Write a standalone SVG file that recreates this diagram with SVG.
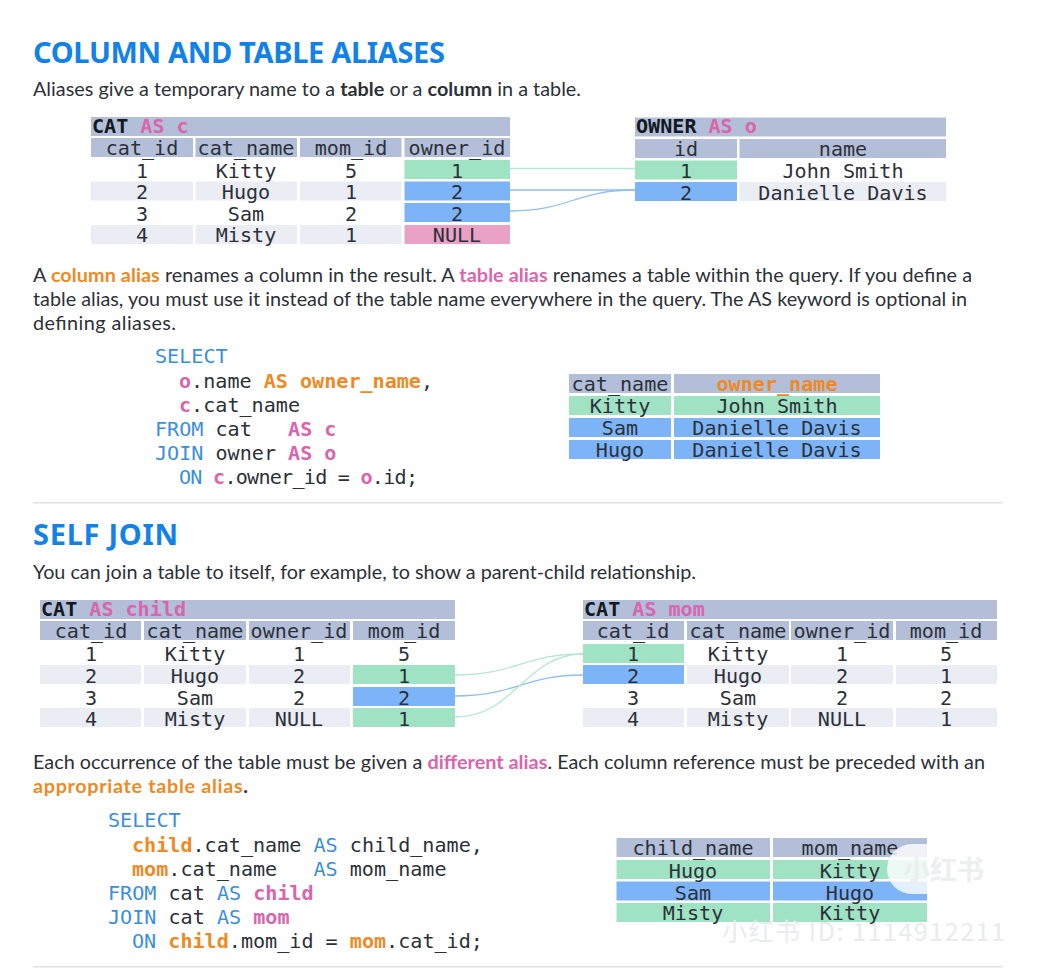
<svg xmlns="http://www.w3.org/2000/svg" width="1049" height="978" viewBox="0 0 1049 978">
<style>
text{font-family:"Lato","Noto Sans",sans-serif;fill:#2c3138}
.h{font-size:29px;font-weight:700;fill:#1282e8;font-family:"Noto Sans",sans-serif}
.p{font-size:19.8px}
.b{font-weight:700}
.o{fill:#ee8a25;font-weight:700}
.k{fill:#d965ad;font-weight:700}
.m text{font-family:"DejaVu Sans Mono",monospace;font-size:20.1px;white-space:pre}
.c{text-anchor:middle}
.t{font-weight:700;fill:#14181f}
.q{fill:#3a8fdc}
.hd{fill:#b3bfd9}.lt{fill:#ebedf5}.gr{fill:#a0e3c4}.bl{fill:#7db4f8}.pk{fill:#e9a2c6}
.cn path{fill:none;stroke-width:1.3}
.g{stroke:#b4e8d2}.u{stroke:#8fbef2}
.w{fill:#fff;font-family:"Noto Sans CJK SC","Noto Sans",sans-serif}
</style>
<rect width="1049" height="978" fill="#fff"/>
<text class="h" x="33" y="63" textLength="412">COLUMN AND TABLE ALIASES</text>
<text class="p" x="33" y="96" textLength="548">Aliases give a temporary name to a <tspan class="b">table</tspan> or a <tspan class="b">column</tspan> in a table.</text>
<g id="cat-table" class="m">
<rect class="hd" x="91" y="117" width="419" height="19"/>
<text x="92" y="133"><tspan class="t">CAT</tspan><tspan class="k" dx="12">AS</tspan><tspan class="k" dx="12">c</tspan></text>
<rect class="hd" x="91" y="138" width="102" height="19"/><rect class="hd" x="195.500" y="138" width="101.500" height="19"/><rect class="hd" x="300" y="138" width="101.500" height="19"/><rect class="hd" x="404.500" y="138" width="105.500" height="19"/>
<text class="c" x="142" y="155">cat_id</text><text class="c" x="246" y="155">cat_name</text><text class="c" x="351" y="155">mom_id</text><text class="c" x="457" y="155">owner_id</text>
<rect class="gr" x="404.500" y="160" width="105.500" height="19"/>
<rect class="lt" x="91" y="181.500" width="102" height="19"/><rect class="lt" x="195.500" y="181.500" width="101.500" height="19"/><rect class="lt" x="300" y="181.500" width="101.500" height="19"/><rect class="bl" x="404.500" y="181.500" width="105.500" height="19"/>
<rect class="bl" x="404.500" y="203" width="105.500" height="19"/>
<rect class="lt" x="91" y="225" width="102" height="19"/><rect class="lt" x="195.500" y="225" width="101.500" height="19"/><rect class="lt" x="300" y="225" width="101.500" height="19"/><rect class="pk" x="404.500" y="225" width="105.500" height="19"/>
<text class="c" x="142" y="178">1</text><text class="c" x="246" y="178">Kitty</text><text class="c" x="351" y="178">5</text><text class="c" x="457" y="178">1</text>
<text class="c" x="142" y="199">2</text><text class="c" x="246" y="199">Hugo</text><text class="c" x="351" y="199">1</text><text class="c" x="457" y="199">2</text>
<text class="c" x="142" y="221">3</text><text class="c" x="246" y="221">Sam</text><text class="c" x="351" y="221">2</text><text class="c" x="457" y="221">2</text>
<text class="c" x="142" y="242">4</text><text class="c" x="246" y="242">Misty</text><text class="c" x="351" y="242">1</text><text class="c" x="457" y="242">NULL</text>
</g>
<g id="owner-table" class="m">
<rect class="hd" x="635" y="117.500" width="311" height="19"/>
<text x="636" y="133"><tspan class="t">OWNER</tspan><tspan class="k" dx="12">AS</tspan><tspan class="k" dx="12">o</tspan></text>
<rect class="hd" x="635" y="139" width="102" height="19"/><rect class="hd" x="739.500" y="139" width="206.500" height="19"/>
<text class="c" x="686" y="156">id</text><text class="c" x="843" y="156">name</text>
<rect class="gr" x="635" y="160.500" width="102" height="19"/>
<rect class="bl" x="635" y="182" width="102" height="19"/><rect class="lt" x="739.500" y="182" width="206.500" height="19"/>
<text class="c" x="686" y="178">1</text><text class="c" x="843" y="178">John Smith</text>
<text class="c" x="686" y="200">2</text><text class="c" x="843" y="200">Danielle Davis</text>
</g>
<g id="connectors" class="cn">
<path class="g" d="M510 168.500H635"/>
<path class="u" d="M510 190H635"/>
<path class="u" d="M510 211C570 211 575 190 635 190"/>
<path class="g" d="M455 675C515 675 525 654 583 654"/>
<path class="u" d="M455 696C515 696 525 675 583 675"/>
<path class="g" d="M455 717C515 717 525 654 583 654"/>
</g>
<text class="p" x="33" y="282" textLength="939">A <tspan class="o">column alias</tspan> renames a column in the result. A <tspan class="k">table alias</tspan> renames a table within the query. If you define a</text>
<text class="p" x="33" y="306" textLength="934">table alias, you must use it instead of the table name everywhere in the query. The AS keyword is optional in</text>
<text class="p" x="33" y="330" textLength="143">defining aliases.</text>
<g id="query-1" class="m">
<text x="155" y="363" class="q">SELECT</text>
<text x="179" y="388"><tspan class="k">o</tspan>.name <tspan class="o">AS owner_name</tspan>,</text>
<text x="179" y="412"><tspan class="k">c</tspan>.cat_name</text>
<text x="155" y="436"><tspan class="q">FROM</tspan> cat   <tspan class="k">AS c</tspan></text>
<text x="155" y="460"><tspan class="q">JOIN</tspan> owner <tspan class="k">AS o</tspan></text>
<text x="179" y="484" textLength="239"><tspan class="q">ON</tspan> <tspan class="k">c</tspan>.owner_id = <tspan class="k">o</tspan>.id;</text>
</g>
<g id="result-1" class="m">
<rect class="hd" x="569" y="374" width="102" height="19"/><rect class="hd" x="674" y="374" width="206" height="19"/>
<text class="c" x="620" y="391">cat_name</text><text class="c o" x="777" y="391">owner_name</text>
<rect class="gr" x="569" y="396" width="102" height="19"/><rect class="gr" x="674" y="396" width="206" height="19"/>
<rect class="bl" x="569" y="418" width="102" height="19"/><rect class="bl" x="674" y="418" width="206" height="19"/>
<rect class="bl" x="569" y="440" width="102" height="19"/><rect class="bl" x="674" y="440" width="206" height="19"/>
<text class="c" x="620" y="413">Kitty</text><text class="c" x="777" y="413">John Smith</text>
<text class="c" x="620" y="435">Sam</text><text class="c" x="777" y="435">Danielle Davis</text>
<text class="c" x="620" y="457">Hugo</text><text class="c" x="777" y="457">Danielle Davis</text>
</g>
<rect x="33" y="502" width="970" height="1.500" fill="#dfe2e8"/>
<text class="h" x="33" y="545" textLength="145">SELF JOIN</text>
<text class="p" x="33" y="579" textLength="663">You can join a table to itself, for example, to show a parent-child relationship.</text>
<g id="child-table" class="m">
<rect class="hd" x="40" y="600" width="415" height="19"/>
<text x="41" y="616"><tspan class="t">CAT</tspan><tspan class="k" dx="12">AS</tspan><tspan class="k" dx="12">child</tspan></text>
<rect class="hd" x="40" y="621" width="101" height="19"/><rect class="hd" x="144" y="621" width="102" height="19"/><rect class="hd" x="249" y="621" width="101" height="19"/><rect class="hd" x="353" y="621" width="102" height="19"/>
<text class="c" x="91" y="638">cat_id</text><text class="c" x="195" y="638">cat_name</text><text class="c" x="299" y="638">owner_id</text><text class="c" x="404" y="638">mom_id</text>
<rect class="lt" x="40" y="665" width="101" height="19"/><rect class="lt" x="144" y="665" width="102" height="19"/><rect class="lt" x="249" y="665" width="101" height="19"/><rect class="gr" x="353" y="665" width="102" height="19"/>
<rect class="bl" x="353" y="687" width="102" height="19"/>
<rect class="lt" x="40" y="708" width="101" height="19"/><rect class="lt" x="144" y="708" width="102" height="19"/><rect class="lt" x="249" y="708" width="101" height="19"/><rect class="gr" x="353" y="708" width="102" height="19"/>
<text class="c" x="91" y="661">1</text><text class="c" x="195" y="661">Kitty</text><text class="c" x="299" y="661">1</text><text class="c" x="404" y="661">5</text>
<text class="c" x="91" y="683">2</text><text class="c" x="195" y="683">Hugo</text><text class="c" x="299" y="683">2</text><text class="c" x="404" y="683">1</text>
<text class="c" x="91" y="705">3</text><text class="c" x="195" y="705">Sam</text><text class="c" x="299" y="705">2</text><text class="c" x="404" y="705">2</text>
<text class="c" x="91" y="726">4</text><text class="c" x="195" y="726">Misty</text><text class="c" x="299" y="726">NULL</text><text class="c" x="404" y="726">1</text>
</g>
<g id="mom-table" class="m">
<rect class="hd" x="583" y="600" width="414" height="19"/>
<text x="584" y="616"><tspan class="t">CAT</tspan><tspan class="k" dx="12">AS</tspan><tspan class="k" dx="12">mom</tspan></text>
<rect class="hd" x="583" y="621" width="101" height="19"/><rect class="hd" x="687" y="621" width="102" height="19"/><rect class="hd" x="791" y="621" width="102" height="19"/><rect class="hd" x="896" y="621" width="101" height="19"/>
<text class="c" x="633" y="638">cat_id</text><text class="c" x="738" y="638">cat_name</text><text class="c" x="842" y="638">owner_id</text><text class="c" x="946" y="638">mom_id</text>
<rect class="gr" x="583" y="644" width="101" height="19"/>
<rect class="bl" x="583" y="665" width="101" height="19"/><rect class="lt" x="687" y="665" width="102" height="19"/><rect class="lt" x="791" y="665" width="102" height="19"/><rect class="lt" x="896" y="665" width="101" height="19"/>
<rect class="lt" x="583" y="708" width="101" height="19"/><rect class="lt" x="687" y="708" width="102" height="19"/><rect class="lt" x="791" y="708" width="102" height="19"/><rect class="lt" x="896" y="708" width="101" height="19"/>
<text class="c" x="633" y="661">1</text><text class="c" x="738" y="661">Kitty</text><text class="c" x="842" y="661">1</text><text class="c" x="946" y="661">5</text>
<text class="c" x="633" y="683">2</text><text class="c" x="738" y="683">Hugo</text><text class="c" x="842" y="683">2</text><text class="c" x="946" y="683">1</text>
<text class="c" x="633" y="705">3</text><text class="c" x="738" y="705">Sam</text><text class="c" x="842" y="705">2</text><text class="c" x="946" y="705">2</text>
<text class="c" x="633" y="726">4</text><text class="c" x="738" y="726">Misty</text><text class="c" x="842" y="726">NULL</text><text class="c" x="946" y="726">1</text>
</g>
<text class="p" x="33" y="769" textLength="952">Each occurrence of the table must be given a <tspan class="k">different alias</tspan>. Each column reference must be preceded with an</text>
<text class="p o" x="33" y="793" textLength="215">appropriate table alias<tspan style="fill:#2c3138">.</tspan></text>
<g id="query-2" class="m">
<text x="108" y="827" class="q">SELECT</text>
<text x="132" y="852"><tspan class="o">child</tspan>.cat_name <tspan class="q">AS</tspan> child_name,</text>
<text x="132" y="876"><tspan class="o">mom</tspan>.cat_name   <tspan class="q">AS</tspan> mom_name</text>
<text x="108" y="900"><tspan class="q">FROM</tspan> cat <tspan class="q">AS</tspan> <tspan class="k">child</tspan></text>
<text x="108" y="924"><tspan class="q">JOIN</tspan> cat <tspan class="q">AS</tspan> <tspan class="k">mom</tspan></text>
<text x="132" y="948"><tspan class="q">ON</tspan> <tspan class="o">child</tspan>.mom_id = <tspan class="o">mom</tspan>.cat_id;</text>
</g>
<g id="result-2" class="m">
<rect class="hd" x="616.500" y="838" width="153.500" height="19"/><rect class="hd" x="773" y="838" width="154" height="19"/>
<rect class="gr" x="616.500" y="860" width="153.500" height="19"/><rect class="gr" x="773" y="860" width="154" height="19"/>
<rect class="bl" x="616.500" y="881.500" width="153.500" height="19"/><rect class="bl" x="773" y="881.500" width="154" height="19"/>
<rect class="gr" x="616.500" y="903" width="153.500" height="19"/><rect class="gr" x="773" y="903" width="154" height="19"/>
<text class="c" x="693" y="855">child_name</text><text class="c" x="850" y="855">mom_name</text>
<text class="c" x="693" y="877.500">Hugo</text><text class="c" x="850" y="877.500">Kitty</text>
<text class="c" x="693" y="899.500">Sam</text><text class="c" x="850" y="899.500">Hugo</text>
<text class="c" x="693" y="920">Misty</text><text class="c" x="850" y="920">Kitty</text>
</g>
<rect x="33" y="966" width="970" height="1.500" fill="#dfe2e8"/>
<g id="watermark">
<rect x="887" y="844" width="112" height="50" rx="25" fill="#fff" fill-opacity=".8"/>
<text class="w" x="903" y="880" font-size="27" style="fill:#eceef0" font-weight="700">小红书</text>
<text class="w" x="722" y="941" font-size="25" textLength="283" style="fill:#e9ebee">小红书 ID: 1114912211</text>
</g>
</svg>
